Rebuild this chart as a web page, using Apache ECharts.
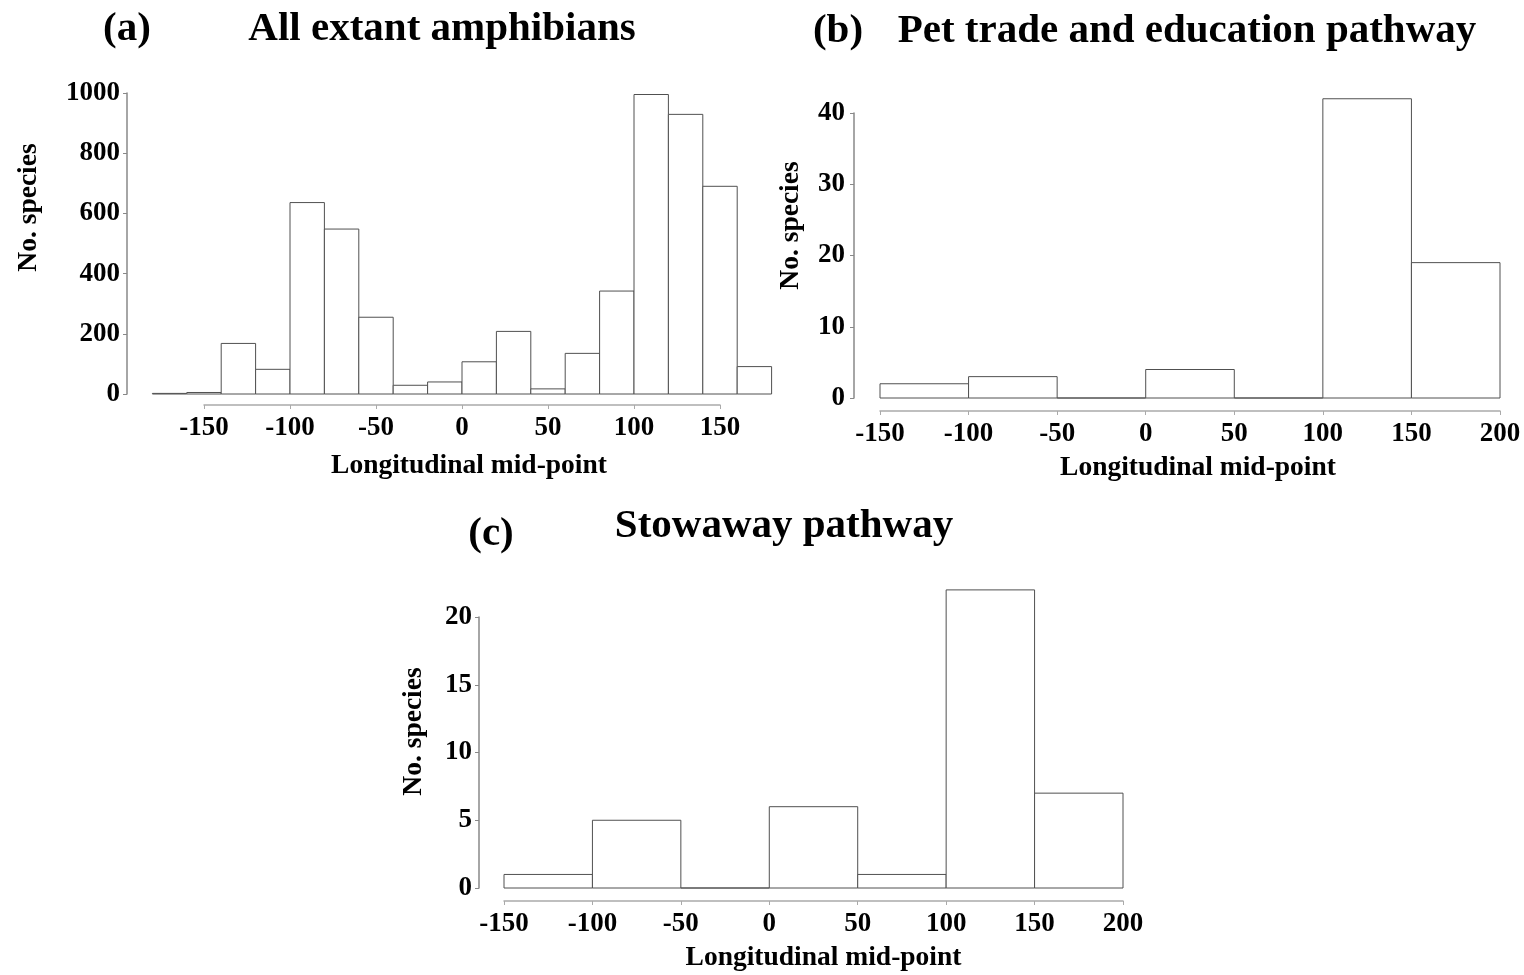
<!DOCTYPE html>
<html>
<head>
<meta charset="utf-8">
<script src="https://cdn.jsdelivr.net/npm/echarts@6/dist/echarts.min.js"></script>
<style>
  html, body { margin: 0; padding: 0; background: #fff; }
  #chart { width: 1524px; height: 975px; }
</style>
</head>
<body>
<div id="chart"></div>
<script>
// Histogram bin edges (longitude, degrees) and species counts per bin
const edgesAll = [-180, -160, -140, -120, -100, -80, -60, -40, -20, 0, 20, 40, 60, 80, 100, 120, 140, 160, 180];
const countsAll = [2, 5, 168, 82, 636, 548, 255, 29, 40, 107, 208, 17, 135, 342, 995, 929, 690, 91];

const edgesPath = [-150, -100, -50, 0, 50, 100, 150, 200];
const countsPet = [2, 3, 0, 4, 0, 42, 19];
const countsStow = [1, 5, 0, 6, 1, 22, 7];

// Axis ranges: [min, max, interval]
const xRangeAll = [-150, 150, 50];
const yRangeAll = [0, 1000, 200];
const xRangePath = [-150, 200, 50];
const yRangePet = [0, 40, 10];
const yRangeStow = [0, 20, 5];

const panelTitles = ['All extant amphibians', 'Pet trade and education pathway', 'Stowaway pathway'];
const panelLetters = ['(a)', '(b)', '(c)'];
const xName = 'Longitudinal mid-point';
const yName = 'No. species';

const FONT = '"Liberation Serif", "Times New Roman", serif';

function binData(edges, counts) {
  return counts.map((c, i) => [edges[i], edges[i + 1], c]);
}

// One histogram bin: white box with a thin grey outline, drawn from the axis scales
function renderBin(params, api) {
  const x0 = api.value(0), x1 = api.value(1), v = api.value(2);
  const pBL = api.coord([x0, 0]);
  const pTR = api.coord([x1, v]);
  return {
    type: 'polygon',
    shape: { points: [[pBL[0], pBL[1]], [pBL[0], pTR[1]], [pTR[0], pTR[1]], [pTR[0], pBL[1]]] },
    style: { fill: '#fff', stroke: '#505050', lineWidth: 1 }
  };
}

const labelStyle = { color: '#000', fontFamily: FONT, fontWeight: 'bold', fontSize: 27 };
function nameStyle(padding) {
  return { color: '#000', fontFamily: FONT, fontWeight: 'bold', fontSize: 27.5, padding };
}

function xAxisDef(gridIndex, range, offset, nameGap, namePad) {
  return {
    type: 'value', gridIndex, min: range[0], max: range[1], interval: range[2],
    offset, name: xName, nameLocation: 'middle', nameGap, nameTextStyle: nameStyle(namePad),
    splitLine: { show: false },
    axisLine: { show: true, onZero: false, lineStyle: { color: '#aaa', width: 1.5 } },
    axisTick: { show: true, length: 4, lineStyle: { color: '#aaa' } },
    axisLabel: Object.assign({ margin: 10 }, labelStyle)
  };
}

function yAxisDef(gridIndex, range, offset, nameGap, labelMargin, namePad) {
  return {
    type: 'value', gridIndex, min: range[0], max: range[1], interval: range[2],
    offset, name: yName, nameLocation: 'middle', nameGap, nameRotate: 90, nameTextStyle: nameStyle(namePad),
    splitLine: { show: false },
    axisLine: { show: true, onZero: false, lineStyle: { color: '#888', width: 1.5 } },
    axisTick: { show: true, length: 4, lineStyle: { color: '#888' } },
    axisLabel: Object.assign({ margin: labelMargin, formatter: v => String(v) }, labelStyle)
  };
}

const chart = echarts.init(document.getElementById('chart'), null, { renderer: 'canvas' });

const titleFont = 'bold 41px ' + FONT;
function titleText(text, x, y) {
  return { type: 'text', x, y, style: { text, font: titleFont, fill: '#000', align: 'center', verticalAlign: 'middle' } };
}

chart.setOption({
  backgroundColor: '#fff',
  animation: false,
  graphic: [
    titleText(panelLetters[0], 127, 29),
    titleText(panelTitles[0], 442, 29),
    titleText(panelLetters[1], 838, 31),
    titleText(panelTitles[1], 1187, 31),
    titleText(panelLetters[2], 491, 534),
    titleText(panelTitles[2], 784, 526)
  ],
  grid: [
    { left: 204, top: 93, width: 516, height: 301 },
    { left: 880, top: 113, width: 620, height: 285 },
    { left: 504, top: 617, width: 619, height: 271 }
  ],
  xAxis: [
    xAxisDef(0, xRangeAll, 11, 47, [0, 0, 0, 14]),
    xAxisDef(1, xRangePath, 13, 43, [0, 0, 0, 16]),
    xAxisDef(2, xRangePath, 13, 43, [0, 0, 0, 20])
  ],
  yAxis: [
    yAxisDef(0, yRangeAll, 77, 84, 7, [0, 0, 0, 72]),
    yAxisDef(1, yRangePet, 26, 49, 9, [0, 0, 0, 60]),
    yAxisDef(2, yRangeStow, 25, 51, 7, [0, 0, 0, 42])
  ],
  series: [
    { type: 'custom', xAxisIndex: 0, yAxisIndex: 0, clip: false, renderItem: renderBin,
      data: binData(edgesAll, countsAll), encode: { x: [0, 1], y: 2 } },
    { type: 'custom', xAxisIndex: 1, yAxisIndex: 1, clip: false, renderItem: renderBin,
      data: binData(edgesPath, countsPet), encode: { x: [0, 1], y: 2 } },
    { type: 'custom', xAxisIndex: 2, yAxisIndex: 2, clip: false, renderItem: renderBin,
      data: binData(edgesPath, countsStow), encode: { x: [0, 1], y: 2 } }
  ]
});
</script>
</body>
</html>
